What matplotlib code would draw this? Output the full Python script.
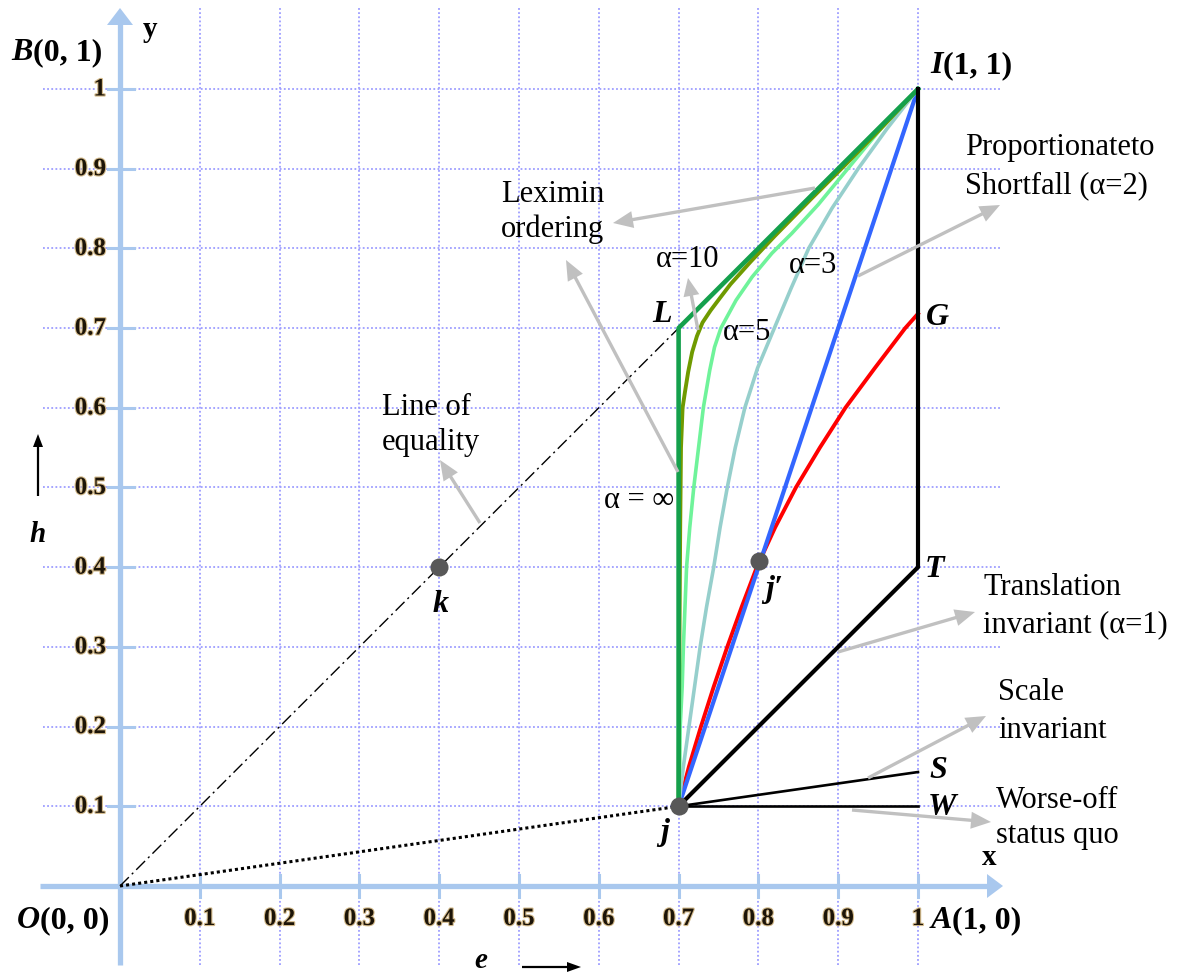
import math
import matplotlib
matplotlib.use('Agg')
import matplotlib.pyplot as plt
import matplotlib.patheffects as pe

# ---------------- data ----------------
tick_vals = [0.1, 0.2, 0.3, 0.4, 0.5, 0.6, 0.7, 0.8, 0.9, 1.0]
x_tick_labels = ['0.1', '0.2', '0.3', '0.4', '0.5', '0.6', '0.7', '0.8', '0.9', '1']
y_tick_labels = ['0.1', '0.2', '0.3', '0.4', '0.5', '0.6', '0.7', '0.8', '0.9', '1']

equality_x = [0.0, 0.7]
equality_y = [0.0, 0.7]
origin_j_x = [0.0, 0.7]
origin_j_y = [0.0, 0.1]

leximin_x = [0.7, 0.7, 1.0]
leximin_y = [0.1, 0.7, 1.0]

alpha10_x = [0.700, 0.701, 0.702, 0.703, 0.705, 0.708, 0.712, 0.717, 0.723, 0.730, 0.740,
             0.752, 0.765, 0.790, 0.820, 0.866, 0.909, 0.954, 1.0]
alpha10_y = [0.10, 0.30, 0.45, 0.55, 0.60, 0.62, 0.645, 0.67, 0.69, 0.707, 0.722,
             0.738, 0.755, 0.783, 0.815, 0.862, 0.905, 0.951, 1.0]

alpha5_x = [0.700, 0.7015, 0.702, 0.7045, 0.706, 0.708, 0.710, 0.714, 0.719, 0.725, 0.731, 0.739,
            0.745, 0.753, 0.772, 0.792, 0.817, 0.842, 0.875, 0.912, 0.955, 1.0]
alpha5_y = [0.10, 0.15, 0.20, 0.25, 0.30, 0.35, 0.40, 0.45, 0.50, 0.55, 0.60, 0.647,
            0.676, 0.70, 0.735, 0.764, 0.794, 0.819, 0.855, 0.90, 0.952, 1.0]

alpha3_x = [0.700, 0.706, 0.713, 0.720, 0.727, 0.735, 0.744, 0.752, 0.761, 0.771, 0.783, 0.799,
            0.820, 0.841, 0.863, 0.892, 0.925, 0.961, 1.0]
alpha3_y = [0.10, 0.15, 0.20, 0.25, 0.30, 0.35, 0.40, 0.45, 0.50, 0.55, 0.60, 0.65,
            0.70, 0.75, 0.80, 0.85, 0.90, 0.95, 1.0]

prop_x = [0.7, 1.0]
prop_y = [0.1, 1.0]

red_x = [0.700, 0.713, 0.728, 0.744, 0.761, 0.779, 0.798, 0.821, 0.847, 0.877, 0.909, 0.946,
         0.984, 1.0]
red_y = [0.10, 0.15, 0.20, 0.25, 0.30, 0.35, 0.40, 0.45, 0.50, 0.55, 0.60, 0.65,
         0.70, 0.718]

trans_x = [0.7, 1.0, 1.0]
trans_y = [0.1, 0.4, 1.0]
scale_x = [0.7, 1.0]
scale_y = [0.1, 0.143]
worse_x = [0.7, 1.0]
worse_y = [0.1, 0.1]

points_x = [0.7, 0.801, 0.4]
points_y = [0.1, 0.408, 0.4]

# ---------------- figure ----------------
W, H = 1189, 976
fig = plt.figure(figsize=(W / 100, H / 100), dpi=100)
ax = fig.add_axes([0, 0, 1, 1])
X0PX, X1PX = 120.0, 918.0   # pixel of x=0, x=1
Y0PX, Y1PX = 886.0, 89.0    # pixel of y=0, y=1
SX = X1PX - X0PX
SY = Y0PX - Y1PX


def fx(px):
    return (px - X0PX) / SX


def fy(py):
    return (Y0PX - py) / SY


ax.set_xlim(fx(0), fx(W))
ax.set_ylim(fy(H), fy(0))
ax.axis('off')

SERIF = ['Liberation Serif', 'DejaVu Serif']
AX = '#a9c8ee'
GRID = '#9d9dff'
GRAY = '#c0c0c0'


def arrow_px(tail, tip, color, lw, hl, hw, z=5):
    tx, ty = tail
    hx, hy = tip
    dx, dy = hx - tx, hy - ty
    L = math.hypot(dx, dy)
    ux, uy = dx / L, dy / L
    bx, by = hx - ux * hl, hy - uy * hl
    nx, ny = -uy, ux
    ax.plot([fx(tx), fx(bx + ux * 1)], [fy(ty), fy(by + uy * 1)], color=color, lw=lw,
            solid_capstyle='butt', zorder=z)
    pts = [(hx, hy), (bx + nx * hw / 2, by + ny * hw / 2), (bx - nx * hw / 2, by - ny * hw / 2)]
    ax.fill([fx(p[0]) for p in pts], [fy(p[1]) for p in pts], color=color, lw=0, zorder=z)


def txt(px, py, s, size=22, weight='normal', style='normal', ha='left', va='baseline',
        color='black', z=8, **kw):
    ax.text(fx(px), fy(py), s, fontsize=size, fontweight=weight, fontstyle=style,
            ha=ha, va=va, color=color, family=SERIF, zorder=z, **kw)


# grid
for v in tick_vals:
    ax.plot([v, v], [fy(965), fy(7)], color=GRID, lw=1.3, ls=(0, (1, 1.3)), zorder=1)
    ax.plot([fx(43), fx(1000)], [v, v], color=GRID, lw=1.3, ls=(0, (1, 1.3)), zorder=1)

# axes with arrows
arrow_px((120, 965), (120, 8), AX, 3.8, 17, 26, z=2)
arrow_px((40, 886), (1003, 886), AX, 3.8, 16, 24, z=2)
for v in tick_vals:
    ax.plot([v, v], [fy(875), fy(897)], color=AX, lw=2.2, zorder=2)
    ax.plot([fx(108), fx(134)], [v, v], color=AX, lw=2.2, zorder=2)

# tick labels
halo = [pe.withStroke(linewidth=1.6, foreground='#d2b98a')]
for v, lab in zip(tick_vals, x_tick_labels):
    ax.text(v, fy(925), lab, fontsize=18, fontweight='bold', family=SERIF, ha='center',
            va='baseline', color='#1c1408', zorder=8, path_effects=halo)
for v, lab in zip(tick_vals, y_tick_labels):
    ax.text(fx(106), v, lab, fontsize=18, fontweight='bold', family=SERIF, ha='right',
            va='center', color='#1c1408', zorder=8, path_effects=halo)

# reference lines
ax.plot(equality_x, equality_y, color='black', lw=1.0, ls=(0, (9, 3, 1.5, 3)), zorder=3)
ax.plot(origin_j_x, origin_j_y, color='black', lw=2.2, ls=(0, (1, 1)), zorder=3)

# curves
ax.plot(red_x, red_y, color='#ff0000', lw=2.8, zorder=4, solid_joinstyle='round')
ax.plot(prop_x, prop_y, color='#3366ff', lw=3.0, zorder=4)
ax.plot(alpha3_x, alpha3_y, color='#96cfcc', lw=2.6, zorder=4, solid_joinstyle='round')
ax.plot(alpha5_x, alpha5_y, color='#6ff39a', lw=2.6, zorder=4, solid_joinstyle='round')
ax.plot(alpha10_x, alpha10_y, color='#6f9a00', lw=2.8, zorder=4, solid_joinstyle='round')
ax.plot(leximin_x, leximin_y, color='#14a04c', lw=3.3, zorder=4)
ax.plot(trans_x, trans_y, color='black', lw=3.0, zorder=4, solid_joinstyle='miter')
ax.plot(scale_x, scale_y, color='black', lw=1.9, zorder=4)
ax.plot(worse_x, worse_y, color='black', lw=1.9, zorder=4)

ax.plot(points_x, points_y, 'o', color='#585858', ms=13, mec='none', zorder=6)

# gray annotation arrows
arrow_px((815, 188), (613, 223), GRAY, 2.4, 20, 17)
arrow_px((678, 472), (566, 260), GRAY, 2.4, 20, 17)
arrow_px((698, 330), (688, 278), GRAY, 2.4, 18, 16)
arrow_px((858, 276), (1000, 205), GRAY, 2.4, 20, 17)
arrow_px((480, 523), (440, 460), GRAY, 2.4, 20, 17)
arrow_px((838, 652), (975, 612), GRAY, 2.4, 20, 17)
arrow_px((868, 778), (986, 716), GRAY, 2.4, 20, 17)
arrow_px((852, 810), (991, 822), GRAY, 2.4, 20, 17)

# black small arrows for h and e
arrow_px((38, 496), (38, 434), 'black', 1.6, 13, 10)
arrow_px((522, 967), (581, 967), 'black', 1.6, 14, 10)

# point labels (bold italic letter + bold coordinates)
BIG = 23
txt(33, 60, 'B', BIG, 'bold', 'italic', ha='right')
txt(33, 60, '(0, 1)', BIG, 'bold', ha='left')
txt(943, 73, 'I', BIG, 'bold', 'italic', ha='right')
txt(943, 73, '(1, 1)', BIG, 'bold', ha='left')
txt(40, 928, 'O', BIG, 'bold', 'italic', ha='right')
txt(40, 928, '(0, 0)', BIG, 'bold', ha='left')
txt(952, 928, 'A', BIG, 'bold', 'italic', ha='right')
txt(952, 928, '(1, 0)', BIG, 'bold', ha='left')

txt(150, 37, 'y', 21, 'bold', ha='center')
txt(989, 865, 'x', 21, 'bold', ha='center')
txt(38, 542, 'h', 21, 'bold', 'italic', ha='center')
txt(481, 968, 'e', 21, 'bold', 'italic', ha='center')

txt(672, 322, 'L', BIG, 'bold', 'italic', ha='right')
txt(926, 325, 'G', BIG, 'bold', 'italic')
txt(925, 577, 'T', BIG, 'bold', 'italic')
txt(929, 778, 'S', BIG, 'bold', 'italic')
txt(928, 815, 'W', BIG, 'bold', 'italic')
txt(665, 840, 'j', BIG, 'bold', 'italic', ha='center')
txt(441, 612, 'k', BIG, 'bold', 'italic', ha='center')
txt(765, 597, "j′", BIG, 'bold', 'italic')

# descriptive labels
txt(965, 155, 'Proportionateto')
txt(965, 193, 'Shortfall (α=2)')
txt(553, 202, 'Leximin', ha='center')
txt(553, 237, 'ordering', ha='center')
txt(688, 267, 'α=10', ha='center')
txt(813, 273, 'α=3', ha='center')
txt(747, 340, 'α=5', ha='center')
txt(382, 415, 'Line of')
txt(382, 450, 'equality')
txt(639, 508, 'α = ∞', ha='center')
txt(983, 595, 'Translation')
txt(983, 632, 'invariant (α=1)')
txt(998, 700, 'Scale')
txt(998, 738, 'invariant')
txt(996, 808, 'Worse-off')
txt(996, 843, 'status quo')

fig.savefig('out.png', dpi=100, facecolor='white')
